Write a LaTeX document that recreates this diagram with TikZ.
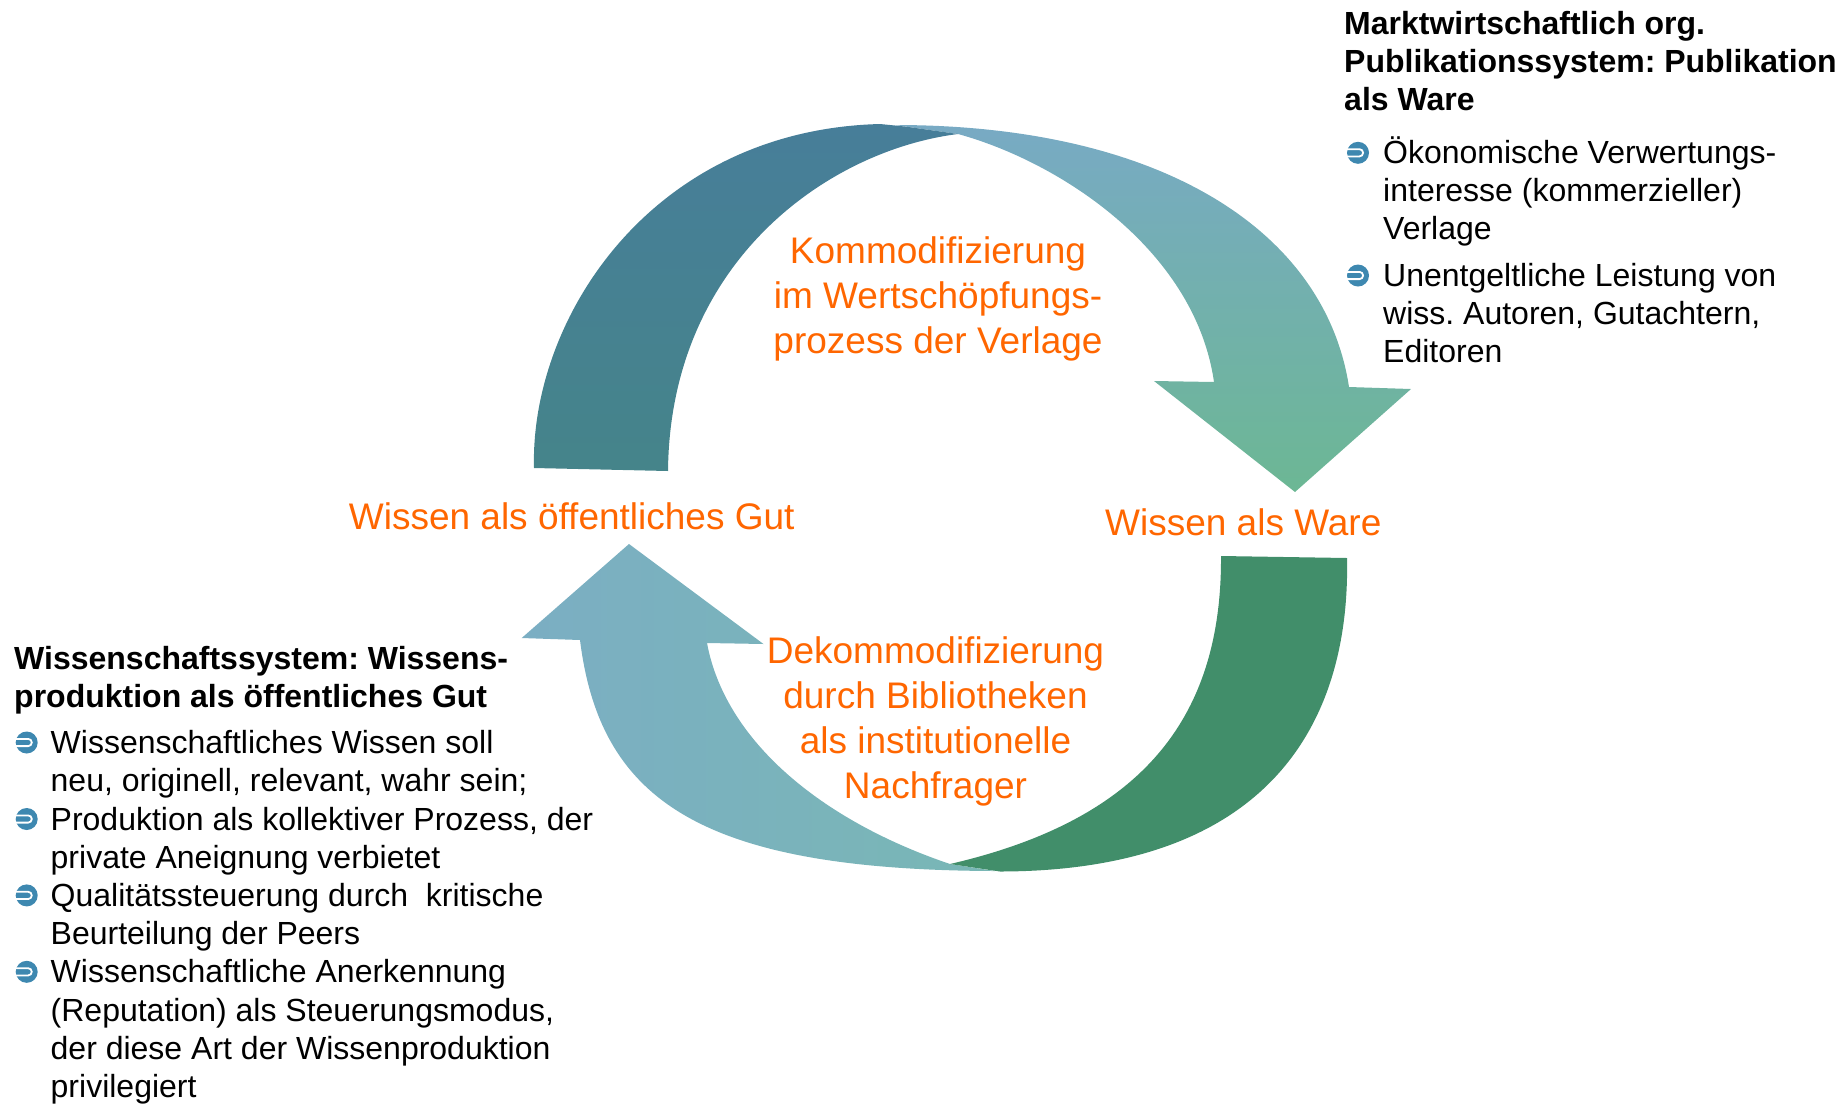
\documentclass[tikz,border=0pt]{standalone}
\usepackage{fontspec}
\setmainfont{Liberation Sans}
\frenchspacing

\definecolor{orangetext}{RGB}{255,102,0}
\definecolor{bulletblue}{RGB}{62,136,176}
\definecolor{darktop}{RGB}{71,126,153}
\definecolor{darkbot}{RGB}{69,132,138}
\definecolor{lighttop}{RGB}{120,170,196}
\definecolor{lightbot}{RGB}{108,183,148}
\definecolor{paleleft}{RGB}{123,174,195}
\definecolor{paleright}{RGB}{121,183,181}
\definecolor{greenband}{RGB}{65,142,106}

\tikzset{
  orangelabel/.style={text=orangetext, font=\fontsize{37}{45}\selectfont, inner sep=0pt},
  blacklist/.style={font=\fontsize{32}{38.2}\selectfont, inner sep=0pt, align=left, anchor=base west},
  blackhead/.style={blacklist, font=\fontsize{32}{38.2}\selectfont\bfseries},
  pics/arrowbullet/.style={code={
    \fill[bulletblue] (0,0) circle [radius=11];
    \draw[white, line width=1.8pt] (-11,-3.6) -- (1.5,-3.6)
        arc [start angle=-90, end angle=90, radius=3.6] -- (-11,3.6);
  }}
}

\begin{document}
\begin{tikzpicture}[x=1pt,y=-1pt]
    \useasboundingbox (0,0) rectangle (1847,1104);

    % upper arrow: public good -> commodity
    \shade[top color=lighttop, bottom color=lightbot] (895,125)
        .. controls (1160,125) and (1325,230) .. (1349,387) -- (1411,389)
        -- (1295,492) coordinate (ware_tip) -- (1154,381) -- (1214,382)
        .. controls (1195,250) and (1060,162) .. (958,134) -- cycle;
    \shade[top color=darktop, bottom color=darkbot] (534,468)
        .. controls (530,320) and (650,130) .. (880,124) -- (905,126.5) -- (958,134)
        .. controls (830,150) and (670,260) .. (668,471) -- cycle;

    % lower arrow: commodity -> public good
    \shade[left color=paleleft, right color=paleright] (580,640)
        .. controls (600,800) and (700,870) .. (995,871) -- (950,864)
        .. controls (820,820) and (725,740) .. (707,643) -- (763.5,644)
        -- (629,544) coordinate (gut_tip) -- (521.7,638) -- cycle;
    \fill[greenband] (950,864) -- (1000,871.5)
        .. controls (1290,871) and (1350,700) .. (1347,558) -- (1221,556)
        .. controls (1222,720) and (1140,820) .. (950,864) -- cycle;

    % labels in the cycle (nodes sit on their last line)
    \node[orangelabel, align=center, anchor=base] (komm_label) at (938,353)
        {Kommodifizierung\\im Wertschöpfungs-\\prozess der Verlage};
    \node[orangelabel, anchor=base west] (gut_label) at (348.7,529) {Wissen als öffentliches Gut};
    \node[orangelabel, anchor=base west] (ware_label) at (1105,535) {Wissen als Ware};
    \node[orangelabel, align=center, anchor=base] (dekomm_label) at (935.5,798)
        {Dekommodifizierung\\durch Bibliotheken\\als institutionelle\\Nachfrager};

    % market side
    \node[blackhead] (markt_head) at (1344,110.4)
        {Marktwirtschaftlich org.\\Publikationssystem: Publikation\\als Ware};
    \node[blacklist] (markt_item1) at (1383,239.7)
        {Ökonomische Verwertungs-\\interesse (kommerzieller)\\Verlage};
    \node[blacklist] (markt_item2) at (1383,362.4)
        {Unentgeltliche Leistung von\\wiss. Autoren, Gutachtern,\\Editoren};
    \pic at (1358,152.8) {arrowbullet};
    \pic at (1358,275.5) {arrowbullet};

    % science side
    \node[blackhead] (wiss_head) at (14,707.2)
        {Wissenschaftssystem: Wissens-\\produktion als öffentliches Gut};
    \node[blacklist] (wiss_item1) at (50.5,791.7)
        {Wissenschaftliches Wissen soll\\neu, originell, relevant, wahr sein;};
    \node[blacklist] (wiss_item2) at (50.5,868.2)
        {Produktion als kollektiver Prozess, der\\private Aneignung verbietet};
    \node[blacklist] (wiss_item3) at (50.5,944.6)
        {Qualitätssteuerung durch\ \ kritische\\Beurteilung der Peers};
    \node[blacklist] (wiss_item4) at (50.5,1097.4)
        {Wissenschaftliche Anerkennung\\(Reputation) als Steuerungsmodus,\\der diese Art der Wissenproduktion\\privilegiert};
    \foreach \y in {742.5,819,895.4,971.8}
        \pic at (26.7,\y) {arrowbullet};
\end{tikzpicture}
\end{document}
